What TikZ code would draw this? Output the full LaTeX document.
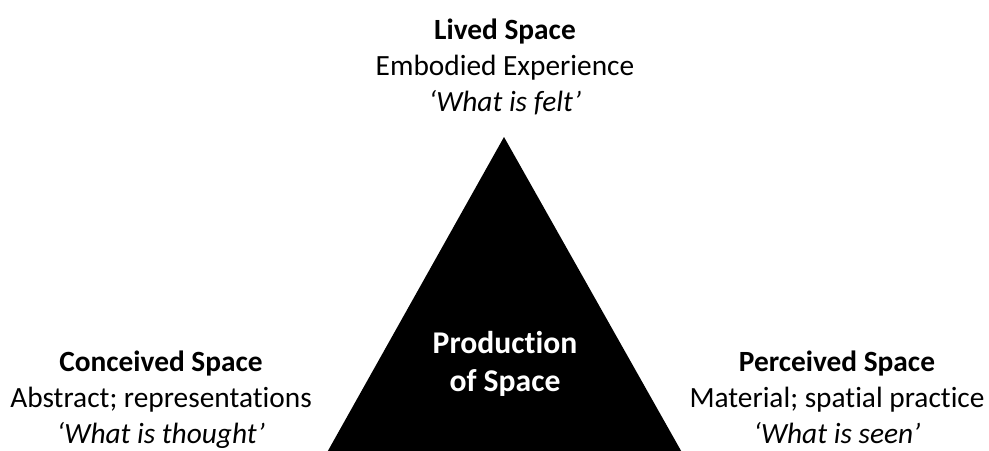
\documentclass[tikz,border=0pt]{standalone}
\usepackage{fontspec}
\setmainfont[Ligatures={NoCommon}]{Carlito}
\usepackage{tikz}
\usetikzlibrary{
  calc,
  positioning,
}
\tikzset{
  spacetext/.style={align=center, inner sep=0pt, font=\fontsize{16.7}{20.5}\selectfont},
  coretext/.style={align=center, inner sep=0pt, text=white, font=\fontsize{18}{21.5}\selectfont\bfseries},
}

\begin{document}
\begin{tikzpicture}
      \useasboundingbox (0, 0) rectangle (19.78, 9);
      \coordinate (apex) at (10.08, 6.26);
      \coordinate (baseL) at (6.54, -0.05);
      \coordinate (baseR) at (13.64, -0.05);
      \begin{scope}
        \clip (0, 0) rectangle (19.78, 9);
        \fill [black] (baseL) -- (apex) -- (baseR) -- cycle;
      \end{scope}

      \node [coretext] (core) at (10.1, 1.72) {Production\\of Space};

      \node [spacetext, anchor=north] (lived) at (10.1, 8.63)
        {\textbf{Lived Space}\\Embodied Experience\\\textit{‘What is felt’}};
      \node [spacetext, anchor=north] (conceived) at (3.22, 1.98)
        {\textbf{Conceived Space}\\Abstract; representations\\\textit{‘What is thought’}};
      \node [spacetext, anchor=north] (perceived) at (16.74, 1.98)
        {\textbf{Perceived Space}\\Material; spatial practice\\\textit{‘What is seen’}};
    \end{tikzpicture}
\end{document}
